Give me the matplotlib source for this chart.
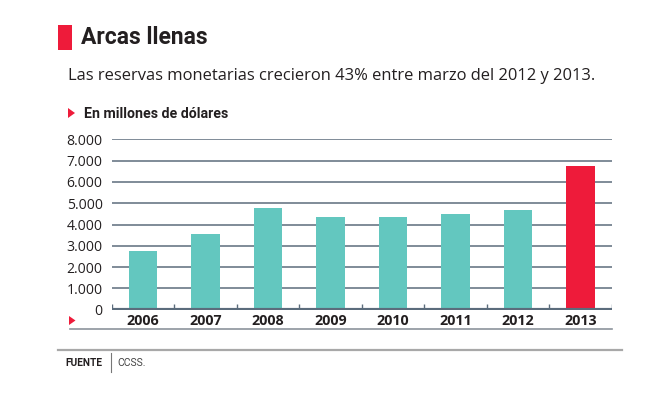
import matplotlib
matplotlib.use("Agg")
import matplotlib.pyplot as plt
from matplotlib.lines import Line2D
from matplotlib.patches import Rectangle, Polygon

years = ["2006", "2007", "2008", "2009", "2010", "2011", "2012", "2013"]
values = [2750, 3540, 4760, 4350, 4350, 4510, 4680, 6750]
yticks = [0, 1000, 2000, 3000, 4000, 5000, 6000, 7000, 8000]
ytick_labels = ["0", "1.000", "2.000", "3.000", "4.000", "5.000", "6.000", "7.000", "8.000"]

TEAL = "#63C7BF"
RED = "#EE1B3A"
GRID = "#7F8B98"
BASE = "#5B6C7C"
TXT = "#231F20"

W, H = 653, 398
fig = plt.figure(figsize=(W / 100, H / 100), dpi=100)
fig.patch.set_facecolor("white")

def fx(x):
    return x / W

def fy(y):
    return 1 - y / H

# header
fig.patches.append(Rectangle((fx(58), fy(50)), fx(14), (25) / H, transform=fig.transFigure,
                             facecolor=RED, edgecolor="none"))
fig.text(fx(81), fy(38), "Arcas llenas", fontsize=16.5, fontweight="bold", family="Roboto",
         color=TXT, va="center", ha="left")
fig.text(fx(68), fy(76), "Las reservas monetarias crecieron 43% entre marzo del 2012 y 2013.",
         fontsize=11.9, family="Open Sans", color=TXT, va="center", ha="left")
fig.patches.append(Polygon([[fx(68), fy(108)], [fx(68), fy(118)], [fx(75), fy(113)]],
                           closed=True, transform=fig.transFigure, facecolor=RED, edgecolor="none"))
fig.text(fx(84), fy(114), "En millones de dólares", fontsize=10.2, fontweight="bold", family="Roboto",
         color=TXT, va="center", ha="left")

# axes
left, right, bottom, top = 111.7, 611.7, 309.7, 139.3
ax = fig.add_axes([fx(left), fy(bottom), (right - left) / W, (bottom - top) / H])
ax.set_facecolor("none")
x = list(range(len(years)))
colors = [TEAL] * (len(years) - 1) + [RED]
ax.bar(x, values, width=0.46, color=colors, zorder=3)
ax.set_xlim(-0.5, len(years) - 0.5)
ax.set_ylim(0, 8000)
for yv in yticks[1:]:
    ax.axhline(yv, color=GRID, lw=1.4, zorder=1)
ax.axhline(0, color=BASE, lw=3, zorder=4)
for b in [i - 0.5 for i in range(len(years) + 1)]:
    ax.plot([b, b], [0, 280], color=BASE, lw=1, zorder=4, solid_capstyle="butt")
for s in ax.spines.values():
    s.set_visible(False)
ax.set_yticks(yticks)
ax.set_yticklabels(ytick_labels, family="Open Sans", fontsize=10.1, color=TXT)
ax.tick_params(axis="y", length=0, pad=6.5)
ax.set_xticks(x)
ax.set_xticklabels(years, family="Open Sans", fontweight="bold", fontsize=10.3, color=TXT)
ax.tick_params(axis="x", length=0, pad=3.2)

# line below year labels
fig.add_artist(Line2D([fx(70), fx(612)], [fy(328.5), fy(328.5)], color="#8C949C", lw=1.2))
fig.patches.append(Polygon([[fx(69), fy(316)], [fx(69), fy(325)], [fx(75.5), fy(320.5)]],
                           closed=True, transform=fig.transFigure, facecolor=RED, edgecolor="none"))

# footer
fig.add_artist(Line2D([fx(58), fx(622)], [fy(350), fy(350)], color="#A8A8A8", lw=1.6))
fig.text(fx(65), fy(363), "FUENTE", fontsize=7.3, fontweight="bold", family="Roboto",
         color=TXT, va="center", ha="left")
fig.add_artist(Line2D([fx(110.5), fx(110.5)], [fy(353), fy(372)], color="#777777", lw=0.8))
fig.text(fx(117), fy(363), "CCSS.", fontsize=7.5, family="Roboto", color="#444444",
         va="center", ha="left")

fig.savefig("out.png", dpi=100, facecolor="white")
